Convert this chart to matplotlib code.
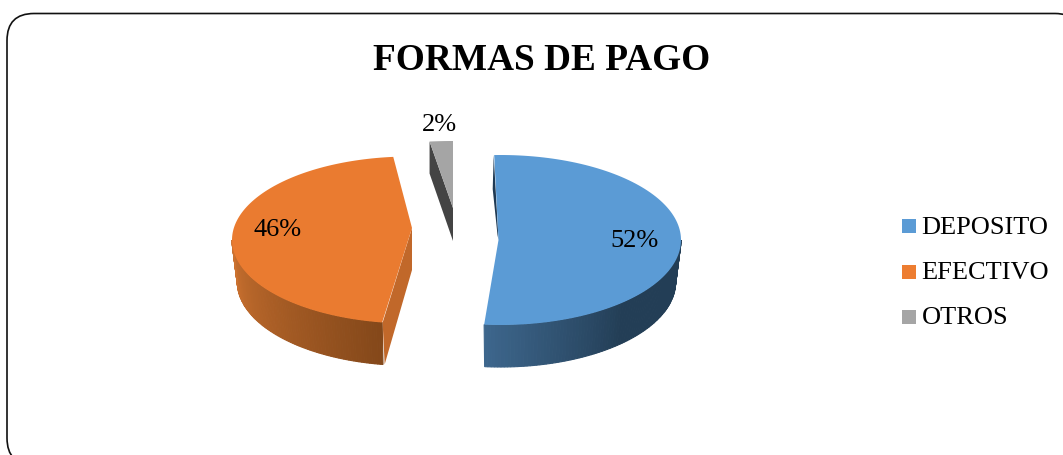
import numpy as np
import matplotlib
matplotlib.use('Agg')
import matplotlib.pyplot as plt
from matplotlib.patches import FancyBboxPatch, Rectangle
from matplotlib.colors import to_rgb

names = ['DEPOSITO', 'EFECTIVO', 'OTROS']
values = [52, 46, 2]

topColors = ['#5b9bd5', '#ea7b30', '#a5a5a5']
legendColors = ['#5b9bd5', '#ed7d31', '#a5a5a5']

# layout of each exploded slice, in pixels of the picture
layout = {
    'DEPOSITO': dict(start=-2.0, cx=500.5, cy=240, rx=180.5, ry=85, depth=42, tip=(498.5, 240)),
    'EFECTIVO': dict(start=189.0, cx=410, cy=240, rx=178, ry=83.5, depth=42, tip=(412, 228)),
    'OTROS': dict(start=352.8, cx=453, cy=208, rx=187, ry=67, depth=32, tip=(453, 208)),
}

plt.rcParams['font.family'] = ['Liberation Serif', 'DejaVu Serif']

fig = plt.figure(figsize=(10.63, 4.55), dpi=100)
ax = fig.add_axes([0, 0, 1, 1])
ax.set_xlim(0, 1063)
ax.set_ylim(455, 0)
ax.axis('off')

frame = FancyBboxPatch((34, 40.5), 1021, 397.5, boxstyle='round,pad=27,rounding_size=27',
                       facecolor='white', edgecolor='#111111', linewidth=1.2, clip_on=True)
ax.add_patch(frame)


def rim(p, angles, shrink=1.0):
    t = np.radians(angles)
    return p['cx'] + shrink * p['rx'] * np.sin(t), p['cy'] - p['ry'] * np.cos(t)


def shade(c1, c2, f):
    c1, c2 = np.array(to_rgb(c1)), np.array(to_rgb(c2))
    return tuple(c1 + (c2 - c1) * f)


def sideWall(p, a0, a1, c0, c1, flat=0.0):
    # a wall made of thin strips, so the colour can run along it
    edges = np.linspace(a0, a1, 90)
    for i in range(len(edges) - 1):
        x, y = rim(p, edges[i:i + 2])
        bx, by = rim(p, edges[i:i + 2], shrink=0.97)
        xs = [x[0], x[1], bx[1], bx[0]]
        ys = [y[0], y[1], by[1] + p['depth'], by[0] + p['depth']]
        f = max(0, (i / 88 - flat) / (1 - flat))
        col = shade(c0, c1, f)
        ax.fill(xs, ys, facecolor=col, edgecolor=col, linewidth=0.8, zorder=2)


total = sum(values)
for name, val, col in zip(names, values, topColors):
    p = layout[name]
    sweep = 360 * val / total
    angles = np.linspace(p['start'], p['start'] + sweep, 120)
    x, y = rim(p, angles)
    d = p['depth']
    tx, ty = p['tip']

    if name == 'DEPOSITO':
        sideWall(p, 90, angles[-1], '#233e56', '#3d668c', flat=0.5)
        ax.fill([x[0] - 0.5, x[0] - 1.5, tx - 1, tx], [y[0], y[0] + 34, ty - 5, ty],
                color='#1f3a54', linewidth=0, zorder=2)
    elif name == 'EFECTIVO':
        sideWall(p, angles[0], 270, '#84481a', '#cc7230')
        ax.fill([tx, tx, x[0] + 2.5, x[0] + 0.5], [ty, ty + d, y[0] + d, y[0]],
                color='#c1682a', linewidth=0, zorder=3)
    else:
        ax.fill([x[0], x[0], tx, tx], [y[0], y[0] + d, ty + d + 1, ty],
                color='#444444', linewidth=0, zorder=2)

    ax.fill(np.r_[tx, x], np.r_[ty, y], color=col, linewidth=0, zorder=3)

ax.text(542, 60, 'FORMAS DE PAGO', fontsize=26.8, fontweight='bold', ha='center', va='center', color='black')

labelPos = [(634, 241), (278, 230), (439, 125)]
for val, (lx, ly) in zip(values, labelPos):
    ax.text(lx, ly, '%d%%' % val, fontsize=19, ha='center', va='center', color='black', zorder=5)

legendY = [226, 271.5, 316.5]
for name, col, ly in zip(names, legendColors, legendY):
    ax.add_patch(Rectangle((902, ly - 7), 14, 14, facecolor=col, edgecolor='none'))
    ax.text(921.5, ly + 1.5, name, fontsize=19, ha='left', va='center', color='black')

fig.savefig('out.png', dpi=100)
